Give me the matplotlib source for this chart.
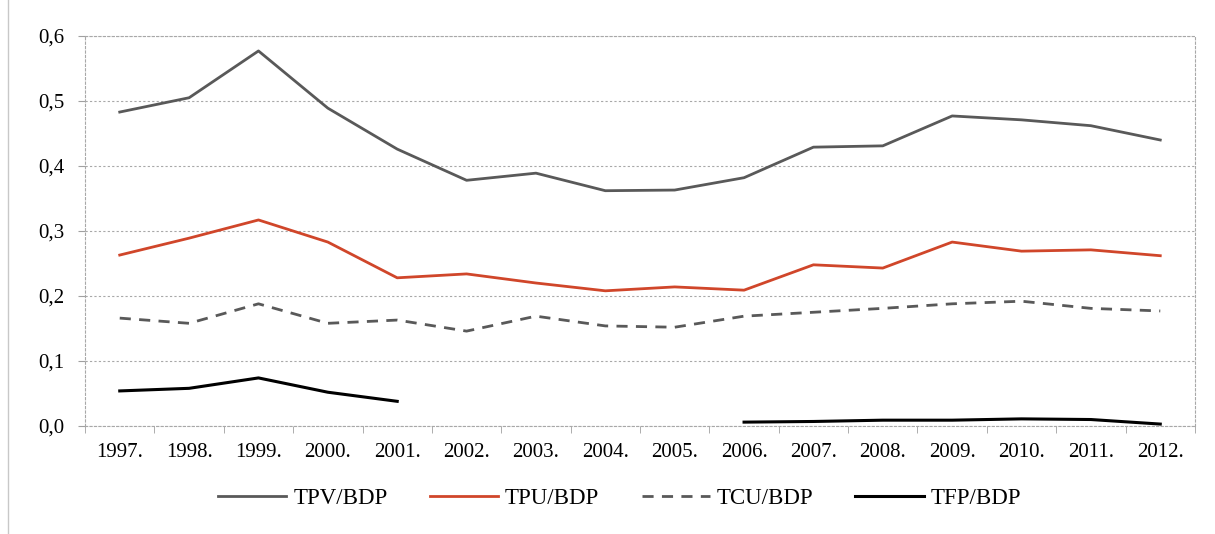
import numpy as np
import matplotlib.pyplot as plt
from matplotlib.patches import Rectangle
from matplotlib.ticker import FixedLocator, FuncFormatter

years = ['1997.', '1998.', '1999.', '2000.', '2001.', '2002.', '2003.', '2004.',
         '2005.', '2006.', '2007.', '2008.', '2009.', '2010.', '2011.', '2012.']
tpv = [0.483, 0.505, 0.577, 0.489, 0.426, 0.378, 0.389, 0.362,
       0.363, 0.382, 0.429, 0.431, 0.477, 0.471, 0.462, 0.440]
tpu = [0.263, 0.289, 0.317, 0.283, 0.228, 0.234, 0.220, 0.208,
       0.214, 0.209, 0.248, 0.243, 0.283, 0.269, 0.271, 0.262]
tcu = [0.166, 0.158, 0.188, 0.158, 0.163, 0.146, 0.169, 0.154,
       0.152, 0.169, 0.175, 0.181, 0.188, 0.192, 0.181, 0.177]
tfp = [0.054, 0.058, 0.074, 0.052, 0.038, np.nan, np.nan, np.nan,
       np.nan, 0.006, 0.007, 0.009, 0.009, 0.011, 0.010, 0.003]

serif = ['Liberation Serif', 'DejaVu Serif']

fig = plt.figure(figsize=(12.15, 5.34), dpi=100)
ax = fig.add_axes([0.07, 0.2022, 0.9135, 0.7304])

# outer chart frame
fig.patches.append(Rectangle((0.0066, -0.01), 1.1, 1.1, transform=fig.transFigure,
                             fill=False, edgecolor='#c8c8c8', lw=1))

x = np.arange(len(years))
ax.plot(x, tpv, color='#595959', lw=2, label='TPV/BDP')
ax.plot(x, tpu, color='#d0462a', lw=2, label='TPU/BDP')
ax.plot(x, tcu, color='#595959', lw=2, ls=(0, (4, 3)), label='TCU/BDP')
ax.plot(x, tfp, color='black', lw=2.2, label='TFP/BDP')

ax.set_xlim(-0.5, len(years) - 0.5)
ax.set_ylim(0, 0.6)
ax.set_yticks(np.arange(0, 0.61, 0.1))
ax.yaxis.set_major_formatter(FuncFormatter(lambda v, p: f'{v:.1f}'.replace('.', ',')))
ax.set_xticks(x)
ax.set_xticklabels(years)
ax.xaxis.set_minor_locator(FixedLocator(np.arange(-0.5, len(years), 1)))
ax.tick_params(axis='x', which='major', length=0, pad=12)
ax.tick_params(axis='x', which='minor', length=5, color='#a0a0a0', direction='out')
ax.tick_params(axis='y', length=5, color='#a0a0a0', pad=10)
ax.tick_params(labelsize=15)
for lab in ax.get_xticklabels() + ax.get_yticklabels():
    lab.set_family(serif)

ax.grid(axis='y', color='#a8a8a8', ls=(0, (2, 2)), lw=0.8)
for s in ax.spines.values():
    s.set_color('#a8a8a8')
    s.set_linestyle((0, (2, 2)))
    s.set_linewidth(0.8)
ax.set_axisbelow(True)

leg = fig.legend(loc='center', bbox_to_anchor=(0.51, 0.067), ncol=4, frameon=False,
                 handlelength=2.97, handletextpad=0.3, columnspacing=1.85,
                 prop={'family': serif, 'size': 16.5})

fig.savefig('out.png', dpi=100)
